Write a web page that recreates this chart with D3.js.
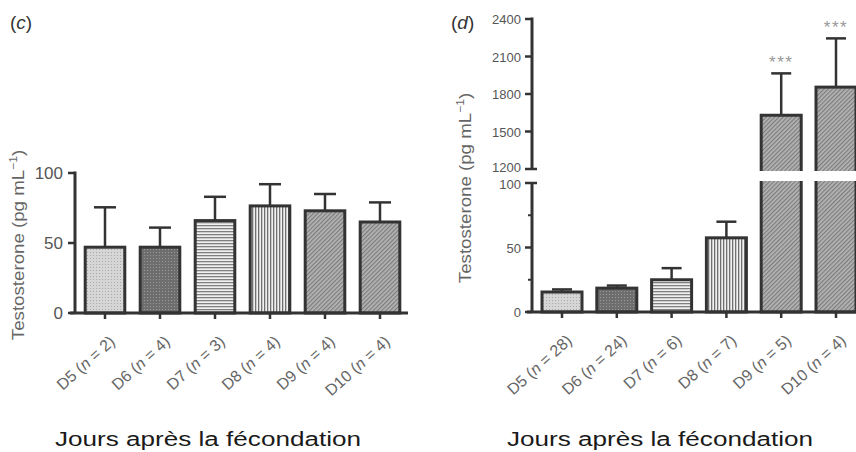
<!DOCTYPE html>
<meta charset="utf-8">
<head>
	<title>Testosterone</title>
</head>
<style>
	body { margin: 0; background: #fff; }
	text { font-family: "Liberation Sans", Arial, sans-serif; }
</style>
<body>
<svg width="856" height="452"></svg>
<script src="https://cdnjs.cloudflare.com/ajax/libs/d3/7.8.5/d3.min.js"></script>
<script>

// panel (c)
var daysC = ["D5", "D6", "D7", "D8", "D9", "D10"];
var nC = [2, 4, 3, 4, 4, 4];
var meanC = [47, 47, 66, 76.5, 73, 65];
var errC = [75.5, 61, 83, 92, 85, 79];
var ticksC = [0, 50, 100];

// panel (d)
var daysD = ["D5", "D6", "D7", "D8", "D9", "D10"];
var nD = [28, 24, 6, 7, 5, 4];
var meanD = [15.5, 18.5, 25, 57.5, 1630, 1855];
var errD = [17.5, 20.5, 34, 70, 1965, 2245];
var starsD = ["", "", "", "", "***", "***"];
var ticksLow = [0, 50, 100];
var minorLow = [25, 75];
var ticksHigh = [1200, 1500, 1800, 2100, 2400];

var patternOf = ["dotLight", "dotDark", "hStripe", "vStripe", "diag", "diag"];

var svg = d3.select("svg");
var defs = svg.append("defs");

// fill patterns
var p = defs.append("pattern").attr("id", "dotLight").attr("patternUnits", "userSpaceOnUse")
	.attr("width", 3).attr("height", 3);
p.append("rect").attr("width", 3).attr("height", 3).attr("fill", "#d6d6d6");
p.append("rect").attr("width", 1).attr("height", 1).attr("fill", "#a8a8a8");

p = defs.append("pattern").attr("id", "dotDark").attr("patternUnits", "userSpaceOnUse")
	.attr("width", 3).attr("height", 3);
p.append("rect").attr("width", 3).attr("height", 3).attr("fill", "#6e6e6e");
p.append("rect").attr("width", 1).attr("height", 1).attr("fill", "#9a9a9a");

p = defs.append("pattern").attr("id", "hStripe").attr("patternUnits", "userSpaceOnUse")
	.attr("width", 4).attr("height", 3);
p.append("rect").attr("width", 4).attr("height", 3).attr("fill", "#f0f0f0");
p.append("rect").attr("width", 4).attr("height", 1.3).attr("fill", "#808080");

p = defs.append("pattern").attr("id", "vStripe").attr("patternUnits", "userSpaceOnUse")
	.attr("width", 3).attr("height", 4);
p.append("rect").attr("width", 3).attr("height", 4).attr("fill", "#f0f0f0");
p.append("rect").attr("width", 1.3).attr("height", 4).attr("fill", "#707070");

p = defs.append("pattern").attr("id", "diag").attr("patternUnits", "userSpaceOnUse")
	.attr("width", 3).attr("height", 3).attr("patternTransform", "rotate(45)");
p.append("rect").attr("width", 3).attr("height", 3).attr("fill", "#b4b4b4");
p.append("rect").attr("width", 1.2).attr("height", 3).attr("fill", "#7c7c7c");

var dark = "#333";

function xLabel(g, x, day, n, y0) {
	var t = g.append("text")
		.attr("transform", "translate(" + (x + 11) + "," + (y0 + 30) + ") rotate(-42)")
		.attr("text-anchor", "end")
		.attr("font-size", 16)
		.attr("fill", "#666");
	t.append("tspan").text(day + " (");
	t.append("tspan").attr("font-style", "italic").text("n");
	t.append("tspan").text(" = " + n + ")");
}

function yTitle(x, y) {
	var t = svg.append("text")
		.attr("transform", "translate(" + x + "," + y + ") rotate(-90) scale(1.1,1)")
		.attr("text-anchor", "middle")
		.attr("font-size", 17)
		.attr("fill", "#666");
	t.append("tspan").text("Testosterone (pg mL");
	t.append("tspan").attr("font-size", 11).attr("dy", -7).text("\u22121");
	t.append("tspan").attr("dy", 7).text(")");
}

function panelLabel(x, letter) {
	var t = svg.append("text").attr("x", x).attr("y", 29)
		.attr("font-size", 19).attr("fill", "#333");
	t.append("tspan").text("(");
	t.append("tspan").attr("font-style", "italic").text(letter);
	t.append("tspan").text(")");
}

function bottomTitle(cx) {
	svg.append("text").attr("x", cx).attr("y", 446)
		.attr("text-anchor", "middle")
		.attr("font-family", "'DejaVu Sans', sans-serif")
		.attr("font-size", 20)
		.attr("textLength", 306)
		.attr("lengthAdjust", "spacingAndGlyphs")
		.attr("fill", "#1a1a1a")
		.text("Jours après la fécondation");
}

// ---------------- panel (c) ----------------
var xC = d3.scaleBand().domain(daysC).range([77.5, 407.5]).paddingInner(0.28).paddingOuter(0.14);
var yC = d3.scaleLinear().domain([0, 100]).range([313, 173]);
var gC = svg.append("g");

daysC.forEach(function(d, i) {
	var cx = xC(d) + xC.bandwidth() / 2;
	// error bar
	gC.append("line").attr("x1", cx).attr("x2", cx).attr("y1", yC(meanC[i])).attr("y2", yC(errC[i]))
		.attr("stroke", dark).attr("stroke-width", 2.5);
	gC.append("line").attr("x1", cx - 11).attr("x2", cx + 11).attr("y1", yC(errC[i])).attr("y2", yC(errC[i]))
		.attr("stroke", dark).attr("stroke-width", 2.5);
	gC.append("rect")
		.attr("x", xC(d)).attr("width", xC.bandwidth())
		.attr("y", yC(meanC[i])).attr("height", yC(0) - yC(meanC[i]))
		.attr("fill", "url(#" + patternOf[i] + ")")
		.attr("stroke", dark).attr("stroke-width", 3);
	gC.append("line").attr("x1", cx).attr("x2", cx).attr("y1", yC(0)).attr("y2", yC(0) + 6)
		.attr("stroke", dark).attr("stroke-width", 2.5);
	xLabel(gC, cx, d, nC[i], yC(0));
});

// axes
gC.append("line").attr("x1", 70).attr("x2", 408).attr("y1", yC(0)).attr("y2", yC(0))
	.attr("stroke", dark).attr("stroke-width", 3);
gC.append("line").attr("x1", 75).attr("x2", 75).attr("y1", yC(0)).attr("y2", yC(100) - 1.5)
	.attr("stroke", dark).attr("stroke-width", 3);
ticksC.forEach(function(t) {
	gC.append("line").attr("x1", 68).attr("x2", 75).attr("y1", yC(t)).attr("y2", yC(t))
		.attr("stroke", dark).attr("stroke-width", 2.5);
	gC.append("text").attr("x", 63).attr("y", yC(t) + 6)
		.attr("text-anchor", "end").attr("font-size", 17).attr("fill", "#555").text(t);
});

yTitle(24, 245);
panelLabel(10, "c");
bottomTitle(208);

// ---------------- panel (d) ----------------
var xD = d3.scaleBand().domain(daysD).range([534.6, 863.4]).paddingInner(0.27).paddingOuter(0.135);
var yLow = d3.scaleLinear().domain([0, 100]).range([312, 183]);
var yHigh = d3.scaleLinear().domain([1200, 2400]).range([169, 19]);
function yD(v) { return v <= 100 ? yLow(v) : yHigh(v); }
var gD = svg.append("g");
var axD = 532;

daysD.forEach(function(d, i) {
	var cx = xD(d) + xD.bandwidth() / 2;
	gD.append("line").attr("x1", cx).attr("x2", cx).attr("y1", yD(meanD[i])).attr("y2", yD(errD[i]))
		.attr("stroke", dark).attr("stroke-width", 2.5);
	gD.append("line").attr("x1", cx - 10).attr("x2", cx + 10).attr("y1", yD(errD[i])).attr("y2", yD(errD[i]))
		.attr("stroke", dark).attr("stroke-width", 2.5);
	gD.append("rect")
		.attr("x", xD(d)).attr("width", xD.bandwidth())
		.attr("y", yD(meanD[i])).attr("height", yD(0) - yD(meanD[i]))
		.attr("fill", "url(#" + patternOf[i] + ")")
		.attr("stroke", dark).attr("stroke-width", 3);
	if (meanD[i] > 100) {
		// axis break across the bar
		gD.append("rect")
			.attr("x", xD(d) - 3).attr("width", xD.bandwidth() + 6)
			.attr("y", yHigh(1200) + 2).attr("height", yLow(100) - yHigh(1200) - 4)
			.attr("fill", "#fff");
	}
	if (starsD[i]) {
		gD.append("text").attr("x", cx).attr("y", yD(errD[i]) - 5)
			.attr("text-anchor", "middle").attr("font-size", 17).attr("letter-spacing", 1.5)
			.attr("fill", "#999")
			.text(starsD[i]);
	}
	gD.append("line").attr("x1", cx).attr("x2", cx).attr("y1", yD(0)).attr("y2", yD(0) + 6)
		.attr("stroke", dark).attr("stroke-width", 2.5);
	xLabel(gD, cx, d, nD[i], yD(0));
});

gD.append("line").attr("x1", 527).attr("x2", 856).attr("y1", yD(0)).attr("y2", yD(0))
	.attr("stroke", dark).attr("stroke-width", 3);
gD.append("line").attr("x1", axD).attr("x2", axD).attr("y1", yLow(0)).attr("y2", yLow(100))
	.attr("stroke", dark).attr("stroke-width", 3);
gD.append("line").attr("x1", axD).attr("x2", axD).attr("y1", yHigh(1200)).attr("y2", yHigh(2400) - 1.5)
	.attr("stroke", dark).attr("stroke-width", 3);

ticksLow.forEach(function(t) {
	gD.append("line").attr("x1", axD - 7).attr("x2", axD + (t === 100 ? 5 : 0)).attr("y1", yLow(t)).attr("y2", yLow(t))
		.attr("stroke", dark).attr("stroke-width", 2.5);
	gD.append("text").attr("x", axD - 11).attr("y", yLow(t) + (t === 100 ? 6 : 5))
		.attr("text-anchor", "end").attr("font-size", 13).attr("fill", "#555").text(t);
});
minorLow.forEach(function(t) {
	gD.append("line").attr("x1", axD - 4).attr("x2", axD).attr("y1", yLow(t)).attr("y2", yLow(t))
		.attr("stroke", dark).attr("stroke-width", 2);
});
ticksHigh.forEach(function(t) {
	gD.append("line").attr("x1", axD - 7).attr("x2", axD + (t === 1200 ? 5 : 0)).attr("y1", yHigh(t)).attr("y2", yHigh(t))
		.attr("stroke", dark).attr("stroke-width", 2.5);
	gD.append("text").attr("x", axD - 11).attr("y", yHigh(t) + (t === 1200 ? 3 : 5))
		.attr("text-anchor", "end").attr("font-size", 13).attr("fill", "#555").text(t);
});

yTitle(471, 188);
panelLabel(451, "d");
bottomTitle(660);

</script>
</body>
